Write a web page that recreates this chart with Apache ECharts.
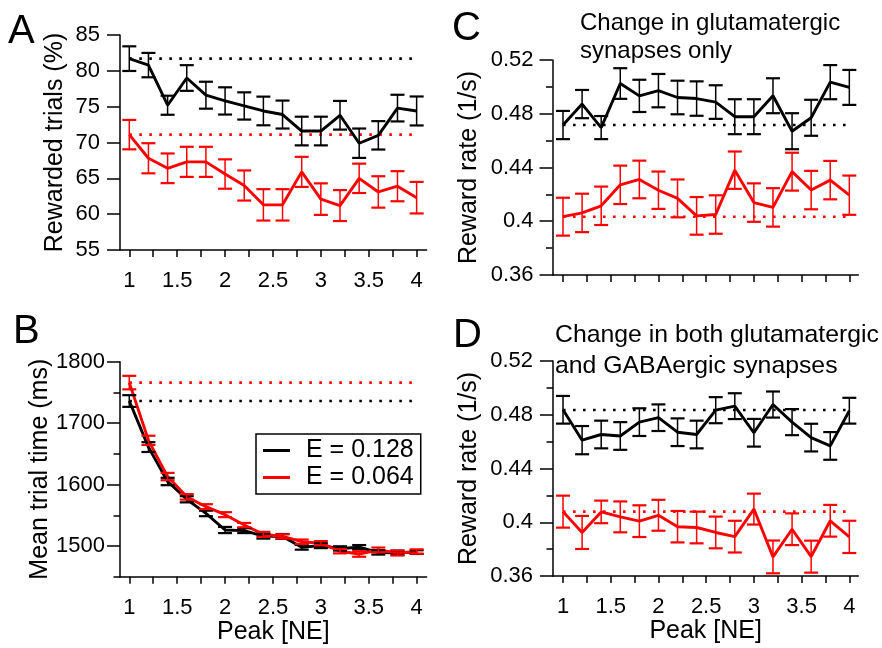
<!DOCTYPE html>
<html><head><meta charset="utf-8">
<script src="https://cdn.jsdelivr.net/npm/echarts@6/dist/echarts.min.js"></script>
<style>html,body{margin:0;padding:0;background:#fff}#c{width:882px;height:648px}</style>
</head><body><div id="c"></div><script>
// ---------- data ----------
const peak = [1.0,1.2,1.4,1.6,1.8,2.0,2.2,2.4,2.6,2.8,3.0,3.2,3.4,3.6,3.8,4.0];
const xTickValues = [1,1.25,1.5,1.75,2,2.25,2.5,2.75,3,3.25,3.5,3.75,4];
const xLabelValues = [1,1.5,2,2.5,3,3.5,4];
const legendNames = ['E = 0.128','E = 0.064'];

// Panel A: rewarded trials (%)
const aBlack = [81.7,80.8,75.2,79.0,76.6,75.8,75.1,74.4,73.9,71.6,71.6,73.8,69.9,71.0,74.8,74.4];
const aBlackErr = [1.72,1.7,1.33,1.79,1.88,1.9,1.9,2.0,1.95,2.0,2.0,2.0,2.05,1.98,1.86,2.02];
const aRed = [71.1,67.8,66.4,67.3,67.3,65.6,64.0,61.3,61.3,65.9,62.1,61.2,65.0,63.1,63.9,62.3];
const aRedErr = [2.05,2.1,2.07,2.1,2.1,2.05,2.1,2.19,2.19,2.1,2.2,2.16,2.05,2.19,2.1,2.2];
const aBase = [81.7,71.1];
const aYTicks = [55,60,65,70,75,80,85];

// Panel B: mean trial time (ms)
const bBlack = [1736,1661,1605,1576,1553,1526,1525,1516,1515.5,1498,1500.5,1496,1498,1489.5,1489,1490];
const bBlackErr = [9.5,8,6,5,4.5,5,4,4,4,4,4,3.5,3.5,3.5,3.5,3];
const bRed = [1766,1672,1613,1580,1564,1551,1534,1519,1515.5,1507,1504.5,1491.5,1487,1493.5,1488.5,1491];
const bRedErr = [11,7.5,6,4.5,4,4,3.5,4,3.5,3.5,3.5,3.5,4.5,4,4,3.5];
const bBase = [1736,1766];
const bYTicks = [1500,1600,1700,1800];
const bYMinor = [1450,1550,1650,1750];

// Panel C: reward rate, glutamatergic only
const cBlack = [0.4716,0.4872,0.4697,0.5025,0.4933,0.4972,0.4921,0.4913,0.4887,0.4778,0.4778,0.4934,0.467,0.477,0.5035,0.4996];
const cBlackErr = [0.0105,0.0105,0.0086,0.0114,0.012,0.0124,0.0125,0.0128,0.0125,0.013,0.013,0.013,0.0134,0.0134,0.0127,0.013];
const cRed = [0.4034,0.4062,0.4115,0.4271,0.4311,0.4231,0.417,0.404,0.405,0.438,0.4139,0.4103,0.4369,0.4232,0.4306,0.4194];
const cRedErr = [0.0141,0.0143,0.0143,0.0143,0.014,0.0139,0.0141,0.014,0.0143,0.0139,0.0143,0.0143,0.0141,0.0143,0.0143,0.0146];
const cBase = [0.4716,0.4034];

// Panel D: reward rate, glutamatergic + GABAergic
const dBlack = [0.4837,0.4611,0.4653,0.4642,0.4745,0.4778,0.467,0.4653,0.4834,0.4864,0.4666,0.4876,0.4745,0.463,0.4568,0.483];
const dBlackErr = [0.0103,0.0105,0.0103,0.0103,0.0103,0.0099,0.0103,0.0103,0.0097,0.0096,0.0103,0.0097,0.0097,0.0103,0.0103,0.0096];
const dRed = [0.4079,0.3924,0.4077,0.404,0.4008,0.4052,0.3967,0.3961,0.3924,0.3893,0.4098,0.3742,0.3948,0.3744,0.4011,0.3891];
const dRedErr = [0.0119,0.0123,0.0084,0.0115,0.0118,0.0115,0.0117,0.0118,0.0118,0.0118,0.0115,0.0122,0.0118,0.0119,0.0118,0.012];
const dBase = [0.4835,0.4079];
const rateTicks = [0.36,0.4,0.44,0.48,0.52];
const rateMinor = [0.38,0.42,0.46,0.5];

// ---------- chart ----------
const FONT = 'Liberation Sans, Arial, Helvetica, sans-serif';
const BLACK = '#000000', RED = '#ff0000';

function errRenderer(color) {
  return function (params, api) {
    const x = api.value(0), lo = api.value(1), hi = api.value(2);
    const pl = api.coord([x, lo]), ph = api.coord([x, hi]);
    const w = 7;
    return {type:'group', children:[
      {type:'line', shape:{x1:pl[0],y1:pl[1],x2:ph[0],y2:ph[1]}, style:{stroke:color,lineWidth:1.5}},
      {type:'line', shape:{x1:pl[0]-w,y1:pl[1],x2:pl[0]+w,y2:pl[1]}, style:{stroke:color,lineWidth:2.2}},
      {type:'line', shape:{x1:ph[0]-w,y1:ph[1],x2:ph[0]+w,y2:ph[1]}, style:{stroke:color,lineWidth:2.2}}
    ]};
  };
}

function panelSeries(gi, black, blackErr, red, redErr, base, named) {
  const out = [];
  const groups = [[black, blackErr, BLACK, base[0], legendNames[0]], [red, redErr, RED, base[1], legendNames[1]]];
  groups.forEach(([vals, errs, color, b, lname], k) => {
    out.push({
      type:'line', name: named ? lname : ('p'+gi+'dot'+k), xAxisIndex:gi, yAxisIndex:gi,
      data:[[peak[0], b],[peak[peak.length-1], b]], showSymbol:false, silent:true,
      lineStyle:{color, width:2.6, type:[2.6,7.4]}, itemStyle:{color}, z:1
    });
    out.push({
      type:'line', name: named ? lname : ('p'+gi+'line'+k), xAxisIndex:gi, yAxisIndex:gi,
      data: peak.map((x,i)=>[x, vals[i]]), showSymbol:false, symbol:'none',
      lineStyle:{color, width:2.9}, itemStyle:{color}, z:3
    });
    out.push({
      type:'custom', name:'p'+gi+'err'+k, xAxisIndex:gi, yAxisIndex:gi,
      renderItem: errRenderer(color), encode:{x:0, y:[1,2]},
      data: peak.map((x,i)=>[x, vals[i]-errs[i], vals[i]+errs[i]]), z:4, silent:true
    });
  });
  return out;
}

const axisLineStyle = {color:'#000', width:1.5};
const labelStyle = {fontSize:22, color:'#000', fontFamily:FONT, formatter: v => String(v)};
const nameStyle = {fontSize:25, color:'#000', fontFamily:FONT};

function xAxisCfg(gi, min, max, showLabels, name) {
  return {type:'value', gridIndex:gi, min, max,
    axisLine:{show:true, onZero:false, lineStyle:axisLineStyle},
    axisTick:{show:true, customValues:xTickValues, length:7, lineStyle:axisLineStyle},
    axisLabel:{show:showLabels, customValues:xLabelValues, margin:20, ...labelStyle},
    splitLine:{show:false},
    name: name || '', nameLocation:'middle', nameGap:43, nameTextStyle:nameStyle};
}
function yAxisCfg(gi, min, max, ticks, margin, name, nameGap) {
  return {type:'value', gridIndex:gi, min, max, position:'left',
    axisLine:{show:true, onZero:false, lineStyle:axisLineStyle},
    axisTick:{show:true, customValues:ticks, length:13, lineStyle:axisLineStyle},
    axisLabel:{show:true, customValues:ticks, margin, ...labelStyle},
    splitLine:{show:false},
    name, nameLocation:'middle', nameGap, nameTextStyle:nameStyle};
}
function yMinorCfg(gi, min, max, ticks) {
  return {type:'value', gridIndex:gi, min, max, position:'left',
    axisLine:{show:false}, axisLabel:{show:false}, splitLine:{show:false},
    axisTick:{show:true, customValues:ticks, length:6.5, lineStyle:axisLineStyle}};
}

const option = {
  animation:false,
  backgroundColor:'#fff',
  textStyle:{fontFamily:FONT},
  grid:[
    {left:120, top:35, right:455.4, bottom:398},
    {left:120, top:361.7, right:455.4, bottom:71.3},
    {left:552.5, top:60, right:23.7, bottom:373},
    {left:553, top:361, right:23.7, bottom:72}
  ],
  xAxis:[
    xAxisCfg(0, 0.903, 4.104, true),
    xAxisCfg(1, 0.903, 4.104, true, 'Peak [NE]'),
    xAxisCfg(2, 0.89, 4.094, false),
    xAxisCfg(3, 0.895, 4.094, true, 'Peak [NE]')
  ],
  yAxis:[
    yAxisCfg(0, 55, 85, aYTicks, 20, 'Rewarded trials (%)', 52),
    yAxisCfg(1, 1450, 1800, bYTicks, 15, 'Mean trial time (ms)', 67),
    yAxisCfg(2, 0.36, 0.52, rateTicks, 19, 'Reward rate (1/s)', 71),
    yAxisCfg(3, 0.36, 0.52, rateTicks, 20, 'Reward rate (1/s)', 71),
    yMinorCfg(1, 1450, 1800, bYMinor),
    yMinorCfg(2, 0.36, 0.52, rateMinor),
    yMinorCfg(3, 0.36, 0.52, rateMinor)
  ],
  legend:{
    data:legendNames, orient:'vertical', left:256, top:434,
    icon:'rect', itemWidth:27, itemHeight:3, itemGap:2,
    padding:[4,7,4,7], borderColor:'#000', borderWidth:1.5,
    textStyle:{fontSize:25, color:'#000', fontFamily:FONT, lineHeight:25, padding:[0,0,0,11]},
    selectedMode:false
  },
  graphic:[
    {type:'text', left:8, top:12, style:{text:'A', font:'40px '+FONT, fill:'#000'}},
    {type:'text', left:13, top:312, style:{text:'B', font:'40px '+FONT, fill:'#000'}},
    {type:'text', left:452, top:9, style:{text:'C', font:'40px '+FONT, fill:'#000'}},
    {type:'text', left:453, top:316, style:{text:'D', font:'40px '+FONT, fill:'#000'}},
    {type:'text', left:580, top:9, style:{text:'Change in glutamatergic\nsynapses only', font:'24px '+FONT, lineHeight:28, fill:'#000'}},
    {type:'text', left:555, top:320, style:{text:'Change in both glutamatergic\nand GABAergic synapses', font:'24.8px '+FONT, lineHeight:31, fill:'#000'}}
  ],
  series:[].concat(
    panelSeries(0, aBlack, aBlackErr, aRed, aRedErr, aBase, false),
    panelSeries(1, bBlack, bBlackErr, bRed, bRedErr, bBase, true),
    panelSeries(2, cBlack, cBlackErr, cRed, cRedErr, cBase, false),
    panelSeries(3, dBlack, dBlackErr, dRed, dRedErr, dBase, false)
  )
};
const chart = echarts.init(document.getElementById('c'), null, {renderer:'canvas'});
chart.setOption(option);
</script></body></html>
